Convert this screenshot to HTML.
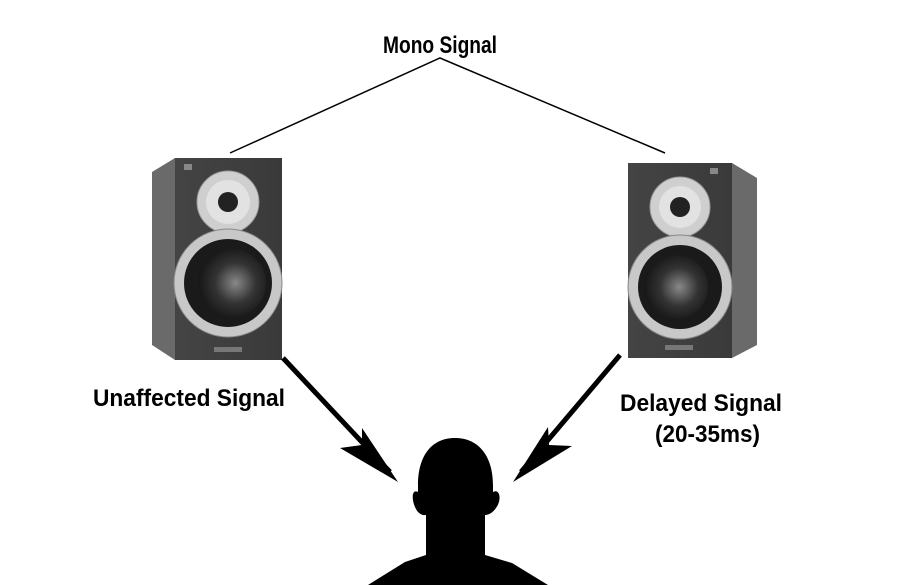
<!DOCTYPE html>
<html><head><style>
html,body{margin:0;padding:0;background:#fff;}
svg{display:block;}
text{font-family:"Liberation Sans Narrow","Liberation Sans",sans-serif;font-weight:bold;fill:#000;}
</style></head><body>
<svg width="900" height="585" viewBox="0 0 900 585" xmlns="http://www.w3.org/2000/svg">
<defs>
<radialGradient id="cone" cx="0.55" cy="0.5" r="0.6">
<stop offset="0" stop-color="#888"/><stop offset="0.5" stop-color="#333"/><stop offset="1" stop-color="#111"/>
</radialGradient>
<linearGradient id="front" x1="0" y1="0" x2="1" y2="0">
<stop offset="0" stop-color="#444"/><stop offset="1" stop-color="#3a3a3a"/>
</linearGradient>
</defs>
<rect width="900" height="585" fill="#fff"/>
<polyline points="230,153 440,58 665,153" fill="none" stroke="#000" stroke-width="1.5"/>
<text x="383" y="53" font-size="24" textLength="114" lengthAdjust="spacingAndGlyphs">Mono Signal</text>

<!-- left speaker -->
<polygon points="152,172 175,158 175,360 152,345" fill="#6a6a6a"/>
<rect x="175" y="158" width="107" height="202" fill="url(#front)"/>
<rect x="184" y="164" width="8" height="6" fill="#888"/>
<circle cx="228" cy="202" r="31" fill="#cfcfcf" stroke="#999"/>
<circle cx="228" cy="202" r="22" fill="#e2e2e2"/>
<circle cx="228" cy="202" r="10" fill="#222"/>
<circle cx="228" cy="283" r="54" fill="#c8c8c8" stroke="#888"/>
<circle cx="228" cy="283" r="44" fill="#1a1a1a"/>
<circle cx="232" cy="283" r="34" fill="url(#cone)"/>
<rect x="214" y="347" width="28" height="5" fill="#777"/>

<!-- right speaker -->
<polygon points="732,163 757,178 757,345 732,358" fill="#6a6a6a"/>
<rect x="628" y="163" width="104" height="195" fill="url(#front)"/>
<rect x="710" y="168" width="8" height="6" fill="#888"/>
<circle cx="680" cy="207" r="30" fill="#cfcfcf" stroke="#999"/>
<circle cx="680" cy="207" r="21" fill="#e2e2e2"/>
<circle cx="680" cy="207" r="10" fill="#222"/>
<circle cx="680" cy="287" r="52" fill="#c8c8c8" stroke="#888"/>
<circle cx="680" cy="287" r="42" fill="#1a1a1a"/>
<circle cx="676" cy="287" r="32" fill="url(#cone)"/>
<rect x="665" y="345" width="28" height="5" fill="#777"/>

<!-- arrows -->
<line x1="283" y1="358" x2="390" y2="472" stroke="#000" stroke-width="5"/>
<polygon points="398,482 362,428 362,445 340,448" fill="#000"/>
<line x1="620" y1="355" x2="521" y2="472" stroke="#000" stroke-width="5"/>
<polygon points="513,482 548,427 549,445 572,446" fill="#000"/>

<text x="93" y="406" font-size="24" textLength="192" lengthAdjust="spacingAndGlyphs">Unaffected Signal</text>
<text x="620" y="411" font-size="24" textLength="162" lengthAdjust="spacingAndGlyphs">Delayed Signal</text>
<text x="655" y="442" font-size="24" textLength="105" lengthAdjust="spacingAndGlyphs">(20-35ms)</text>

<path d="M455,438 C430,438 418,458 418,485 L418,492 C410,488 412,505 418,512 C422,516 425,515 426,515 L426,555 L405,562 L368,585 L548,585 L512,563 L485,555 L485,515 C487,515 492,514 496,508 C502,500 500,488 493,492 L493,485 C493,458 480,438 455,438 Z" fill="#000"/>
</svg>
</body></html>
